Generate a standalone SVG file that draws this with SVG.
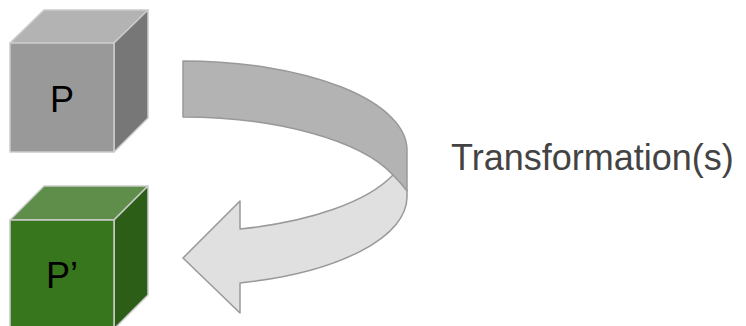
<svg xmlns="http://www.w3.org/2000/svg" width="746" height="326" viewBox="0 0 746 326">
  <style>
    .edge { stroke: #cccccc; stroke-width: 1.5; stroke-linejoin: round; }
    .label { font-family: "Liberation Sans", Arial, sans-serif; font-size: 36px; }
    .ribbon { stroke: #999999; stroke-width: 1.5; stroke-linejoin: round; }
  </style>
  <rect width="746" height="326" fill="#ffffff"/>

  <!-- Cube P (grey) -->
  <g id="cube-p">
    <polygon class="edge" points="10,43 44,10 148,10 114,43" fill="#b3b3b3"/>
    <polygon class="edge" points="114,43 148,10 148,118 114,152" fill="#777777"/>
    <rect class="edge" x="10" y="43" width="104" height="109" fill="#999999"/>
    <text class="label" x="62" y="112" text-anchor="middle" fill="#000000">P</text>
  </g>

  <!-- Cube P' (green) -->
  <g id="cube-p-prime">
    <polygon class="edge" points="10,220 44,186 148,186 114,220" fill="#5f8e4b"/>
    <polygon class="edge" points="114,220 148,186 148,295 114,329" fill="#2c5e18"/>
    <rect class="edge" x="10" y="220" width="104" height="109" fill="#38761d"/>
    <text class="label" x="62" y="288" text-anchor="middle" fill="#000000">P’</text>
  </g>

  <!-- Curved arrow linking the two cubes -->
  <g id="connectors">
    <!-- back of the ribbon -->
    <path class="ribbon" fill="#b3b3b3"
          d="M183,61 A224,89 0 0 1 407,150 L407,191 Q400,184 393,175 A224,88 0 0 0 183,117 Z"/>
    <!-- front of the ribbon with arrowhead -->
    <path class="ribbon" fill="#e0e0e0"
          d="M393,175 Q401,183 407,191 L407,197 A224,89 0 0 1 240,283 L240,313 L183,258 L240,201 L240,229 A224,87 0 0 0 393,175 Z"/>
  </g>

  <g id="caption">
    <text class="label" x="451" y="170" fill="#434343">Transformation(s)</text>
  </g>
</svg>
